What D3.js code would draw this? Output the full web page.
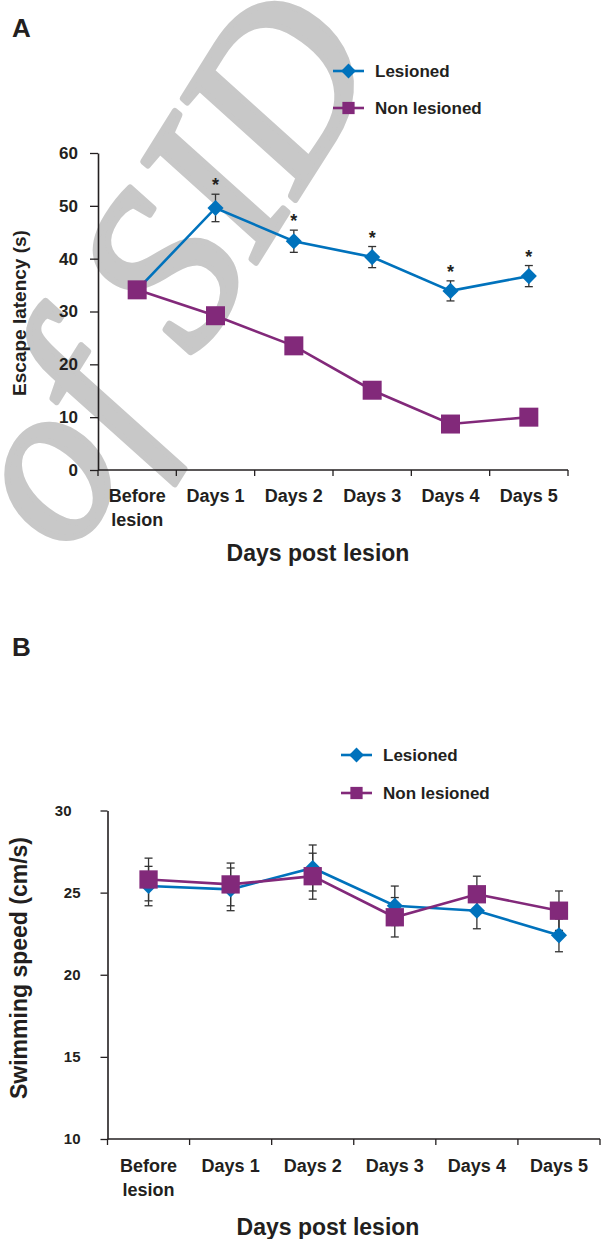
<!DOCTYPE html>
<html>
<head>
<meta charset="utf-8">
<script src="https://cdn.jsdelivr.net/npm/d3@7"></script>
<style>
  body { margin: 0; background: #fff; }
  svg { display: block; }
</style>
</head>
<body>
<div id="chart"></div>
<script>
// categories on the x axis (both panels)
const days = ["Before lesion", "Days 1", "Days 2", "Days 3", "Days 4", "Days 5"];

// Panel A - escape latency (s)
const latencyLesioned = [34.1, 49.6, 43.3, 40.3, 33.9, 36.7];
const latencyLesionedErr = [1.5, 2.6, 2.1, 2.0, 1.9, 2.0];
const latencyNonLesioned = [34.1, 29.2, 23.5, 15.1, 8.7, 10.0];
const latencyNonLesionedErr = [1.5, 1.5, 1.5, 1.4, 1.2, 1.2];
const latencySignif = [false, true, true, true, true, true];
const latencyTicks = [0, 10, 20, 30, 40, 50, 60];

// Panel B - swimming speed (cm/s)
const speedLesioned = [25.4, 25.2, 26.5, 24.2, 23.9, 22.4];
const speedLesionedErr = [1.2, 1.3, 1.4, 1.2, 1.1, 1.0];
const speedNonLesioned = [25.8, 25.5, 26.0, 23.5, 24.9, 23.9];
const speedNonLesionedErr = [1.3, 1.3, 1.4, 1.2, 1.1, 1.2];
const speedTicks = [10, 15, 20, 25, 30];

const seriesNames = ["Lesioned", "Non lesioned"];

const FONT = "'Liberation Sans', Arial, Helvetica, sans-serif";
const BLUE = "#0072BC";
const PURPLE = "#82297A";
const INK = "#231F20";

const svg = d3.select("#chart")
    .append("svg")
    .attr("width", 603)
    .attr("height", 1239)
    .style("font-family", FONT);

// watermark behind everything
svg.append("text")
    .text("of SID")
    .attr("transform", "translate(384,58) rotate(-58)")
    .attr("text-anchor", "end")
    .style("font-family", "'Liberation Serif', 'DejaVu Serif', serif")
    .style("font-style", "italic")
    .style("font-size", "228px")
    .attr("fill", "#c8c8c8")
    .attr("stroke", "#c8c8c8")
    .attr("stroke-width", 6)
    .attr("stroke-linejoin", "round");

function drawPanel(cfg) {
    const g = svg.append("g");

    const x = d3.scaleBand().domain(days).range(cfg.xRange);
    const y = d3.scaleLinear().domain(cfg.yDomain).range(cfg.yRange);
    const cx = d => x(d) + x.bandwidth() / 2;
    const y0 = cfg.yRange[0];

    // panel letter
    g.append("text")
        .attr("x", 12).attr("y", cfg.letterY)
        .text(cfg.letter)
        .attr("fill", INK)
        .style("font-size", "26px")
        .style("font-weight", "bold");

    // y axis
    const yAxis = g.append("g")
        .attr("transform", `translate(${cfg.xRange[0]},0)`)
        .call(d3.axisLeft(y)
            .tickValues(cfg.ticks)
            .tickSize(cfg.tickLen)
            .tickSizeOuter(0)
            .tickPadding(cfg.tickPad));
    yAxis.select(".domain").attr("stroke", INK).attr("stroke-width", 1.6);
    yAxis.selectAll(".tick line").attr("stroke", INK).attr("stroke-width", 1.3);
    yAxis.selectAll(".tick text")
        .attr("fill", INK)
        .attr("dx", d => d === cfg.shiftTick ? -9 : 0)
        .style("font-family", FONT)
        .style("font-size", cfg.tickFont)
        .style("font-weight", "bold");

    // x axis: line, ticks at band edges, labels at band centres
    const xAxis = g.append("g");
    xAxis.append("line")
        .attr("x1", cfg.xRange[0]).attr("x2", cfg.xRange[1])
        .attr("y1", y0).attr("y2", y0)
        .attr("stroke", INK).attr("stroke-width", 1.6);
    const edges = days.map(d => x(d)).concat([cfg.xRange[1]]);
    xAxis.selectAll(".xtick")
        .data(edges)
        .enter().append("line")
        .attr("x1", d => d).attr("x2", d => d)
        .attr("y1", y0).attr("y2", y0 + 6)
        .attr("stroke", INK).attr("stroke-width", 1.3);
    const lbl = xAxis.selectAll(".xlabel")
        .data(days)
        .enter().append("text")
        .attr("x", cx)
        .attr("y", y0 + cfg.labelDy)
        .attr("text-anchor", "middle")
        .attr("fill", INK)
        .style("font-size", "18px")
        .style("font-weight", "bold");
    lbl.each(function (d) {
        const parts = d.startsWith("Before") ? d.split(" ") : [d];
        d3.select(this).selectAll("tspan")
            .data(parts)
            .enter().append("tspan")
            .attr("x", cx(d))
            .attr("dy", (p, i) => i === 0 ? 0 : 24)
            .text(p => p);
    });

    // axis titles
    g.append("text")
        .attr("x", cfg.xTitleX).attr("y", cfg.xTitleY)
        .attr("text-anchor", "middle")
        .attr("fill", INK)
        .style("font-size", "23px")
        .style("font-weight", "bold")
        .text("Days post lesion");
    g.append("text")
        .attr("transform", `translate(${cfg.yTitleX},${cfg.yTitleY}) rotate(-90)`)
        .attr("text-anchor", "middle")
        .attr("fill", INK)
        .style("font-size", cfg.yTitleFont)
        .style("font-weight", "bold")
        .text(cfg.yTitle);

    const series = [
        { name: seriesNames[0], values: cfg.lesioned, err: cfg.lesionedErr, color: BLUE, shape: "diamond" },
        { name: seriesNames[1], values: cfg.nonLesioned, err: cfg.nonLesionedErr, color: PURPLE, shape: "square" }
    ];

    // error bars
    series.forEach(s => {
        const eb = g.append("g").attr("stroke", "#333").attr("stroke-width", 1.3);
        days.forEach((d, i) => {
            const top = y(s.values[i] + s.err[i]);
            const bot = y(s.values[i] - s.err[i]);
            eb.append("line").attr("x1", cx(d)).attr("x2", cx(d)).attr("y1", top).attr("y2", bot);
            eb.append("line").attr("x1", cx(d) - 4).attr("x2", cx(d) + 4).attr("y1", top).attr("y2", top);
            eb.append("line").attr("x1", cx(d) - 4).attr("x2", cx(d) + 4).attr("y1", bot).attr("y2", bot);
        });
    });

    const line = d3.line()
        .x((v, i) => cx(days[i]))
        .y(v => y(v));

    series.forEach(s => {
        g.append("path")
            .datum(s.values)
            .attr("d", line)
            .attr("fill", "none")
            .attr("stroke", s.color)
            .attr("stroke-width", 2.6);
    });

    const diamond = d3.symbol(d3.symbolSquare, 130);
    const square = d3.symbol(d3.symbolSquare, cfg.squareArea);
    series.forEach(s => {
        g.selectAll(null)
            .data(s.values)
            .enter().append("path")
            .attr("d", s.shape === "diamond" ? diamond : square)
            .attr("transform", (v, i) => `translate(${cx(days[i])},${y(v)})` + (s.shape === "diamond" ? " rotate(45)" : ""))
            .attr("fill", s.color);
    });

    // significance stars
    if (cfg.signif) {
        g.selectAll(".star")
            .data(days.filter((d, i) => cfg.signif[i]))
            .enter().append("text")
            .attr("x", cx)
            .attr("y", d => {
                const i = days.indexOf(d);
                return y(cfg.lesioned[i] + cfg.lesionedErr[i]) - 3;
            })
            .attr("text-anchor", "middle")
            .attr("fill", INK)
            .style("font-size", "18px")
            .style("font-weight", "bold")
            .text("*");
    }

    // legend
    const leg = g.append("g").attr("transform", `translate(${cfg.legendX},${cfg.legendY})`);
    series.forEach((s, i) => {
        const row = leg.append("g").attr("transform", `translate(0,${i * cfg.legendGap})`);
        row.append("line")
            .attr("x1", 0).attr("x2", 31)
            .attr("stroke", s.color).attr("stroke-width", 2.6);
        row.append("path")
            .attr("d", s.shape === "diamond" ? d3.symbol(d3.symbolSquare, 110) : d3.symbol(d3.symbolSquare, 150))
            .attr("transform", "translate(15.5,0)" + (s.shape === "diamond" ? " rotate(45)" : ""))
            .attr("fill", s.color);
        row.append("text")
            .attr("x", 42).attr("y", 0)
            .attr("dy", "0.35em")
            .attr("fill", INK)
            .style("font-size", "17px")
            .style("font-weight", "bold")
            .text(s.name);
    });
}

drawPanel({
    letter: "A", letterY: 37,
    xRange: [98, 568], yDomain: [0, 60], yRange: [470, 153],
    ticks: latencyTicks, tickLen: 8, tickPad: 12, tickFont: "17px", shiftTick: null,
    labelDy: 32, xTitleX: 318, xTitleY: 561,
    yTitle: "Escape latency (s)", yTitleX: 26, yTitleY: 313, yTitleFont: "19px",
    lesioned: latencyLesioned, lesionedErr: latencyLesionedErr,
    nonLesioned: latencyNonLesioned, nonLesionedErr: latencyNonLesionedErr,
    signif: latencySignif, squareArea: 361,
    legendX: 333, legendY: 71, legendGap: 37
});

drawPanel({
    letter: "B", letterY: 656,
    xRange: [107.5, 600], yDomain: [10, 30], yRange: [1139, 810.5],
    ticks: speedTicks, tickLen: 7, tickPad: 20, tickFont: "15px", shiftTick: 30,
    labelDy: 33, xTitleX: 328, xTitleY: 1235,
    yTitle: "Swimming speed (cm/s)", yTitleX: 27, yTitleY: 968, yTitleFont: "23px",
    lesioned: speedLesioned, lesionedErr: speedLesionedErr,
    nonLesioned: speedNonLesioned, nonLesionedErr: speedNonLesionedErr,
    signif: null, squareArea: 335,
    legendX: 341, legendY: 755, legendGap: 38
});
</script>
</body>
</html>
